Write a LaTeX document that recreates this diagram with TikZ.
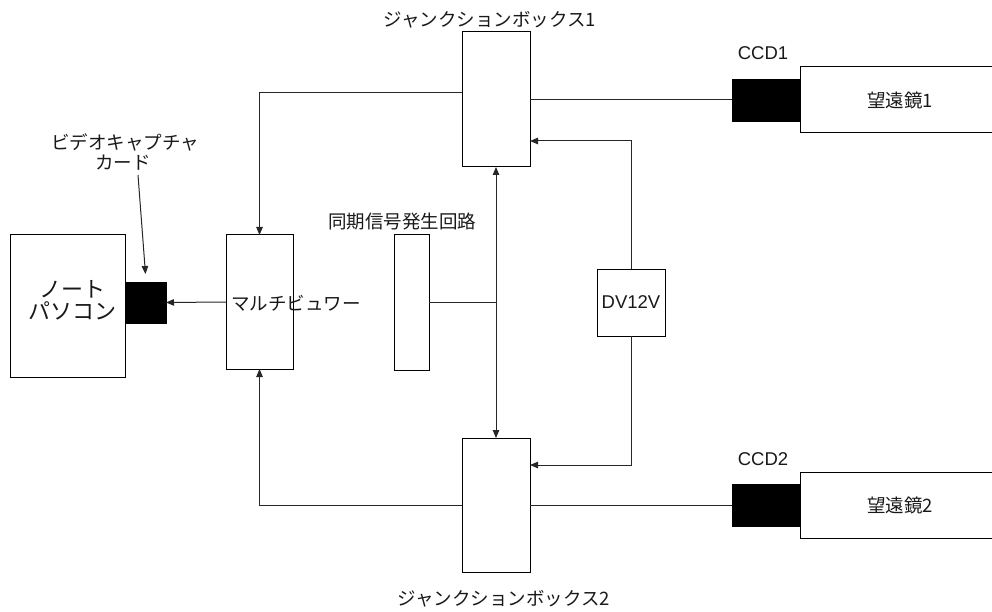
\documentclass[tikz,border=0pt]{standalone}
\usepackage{fontspec}
\setmainfont{Noto Sans CJK JP}
\newfontfamily\lat{Liberation Sans}
\usetikzlibrary{arrows.meta}
\begin{document}
\begin{tikzpicture}[x=1pt,y=-1pt,
  box/.style={draw=black,line width=1pt,fill=white,inner sep=0pt,outer sep=0pt},
  blk/.style={draw=black,fill=black,inner sep=0pt,outer sep=0pt},
  lbl/.style={inner sep=0pt,font=\fontsize{18.5}{21}\selectfont,text=black!90},
  big/.style={inner sep=0pt,font=\fontsize{22}{22}\selectfont,text=black!90},
  wire/.style={line width=1pt,draw=black!85},
  arr/.style={wire,-{Triangle[length=8pt,width=6.5pt]}},
  arrb/.style={wire,{Triangle[length=8pt,width=6.5pt]}-{Triangle[length=8pt,width=6.5pt]}}]
\useasboundingbox (0,0) rectangle (992,612);
\clip (0,0) rectangle (992,612);
% nodes
\node[box,minimum width=115pt,minimum height=142pt] (pc) at (67.5,306) {};
\node[big] (pcl1) at (72,289) {ノート};
\node[big] (pcl2) at (72,311) {パソコン};
\node[blk,minimum width=41pt,minimum height=41pt] (card) at (145.5,302.5) {};
\node[box,minimum width=67pt,minimum height=134pt] (mv) at (259.5,302) {};
\node[lbl] (mvl) at (296,303) {マルチビュワー};
\node[box,minimum width=68pt,minimum height=135pt] (jb1) at (496,99.5) {};
\node[box,minimum width=68pt,minimum height=134pt] (jb2) at (496,505) {};
\node[box,minimum width=35pt,minimum height=135pt] (sync) at (411.5,302.5) {};
\node[box,minimum width=68pt,minimum height=67pt,font=\lat\fontsize{18.5}{21}\selectfont,text=black!90] (dv) at (631,302.5) {DV12V};
\node[box,minimum width=200pt,minimum height=66pt,font=\fontsize{18.5}{21}\selectfont,text=black!90] (tel1) at (900,100) {望遠鏡1};
\node[box,minimum width=200pt,minimum height=66pt,font=\fontsize{18.5}{21}\selectfont,text=black!90] (tel2) at (900,505) {望遠鏡2};
\node[blk,minimum width=68pt,minimum height=42pt] (ccd1) at (766,100) {};
\node[blk,minimum width=68pt,minimum height=42pt] (ccd2) at (766,505) {};
% labels
\node[lbl] (jb1l) at (490,20) {ジャンクションボックス1};
\node[lbl] (jb2l) at (504,599) {ジャンクションボックス2};
\node[lbl] (syncl) at (402,222) {同期信号発生回路};
\node[lbl,font=\lat\fontsize{18.5}{21}\selectfont] (ccd1l) at (763,53) {CCD1};
\node[lbl,font=\lat\fontsize{18.5}{21}\selectfont] (ccd2l) at (763,459) {CCD2};
\node[lbl] (capl1) at (125,142) {ビデオキャプチャ};
\node[lbl] (capl2) at (123,163) {カード};
\coordinate (capt) at (138,175);
% connectors
\draw[arr] (jb1.west |- 0,93) -| (mv.north);
\draw[arr] (jb2.west |- 0,505) -| (mv.south);
\draw[arr] (mv.west) -- (card.east);
\draw[arr] (capt) -- ([yshift=8pt]card.north);
\draw[arrb] (jb1.south) -- (jb2.north);
\draw[wire] (sync.east) -- (sync.east -| jb1.south);
\draw[arr] (dv.north) |- (jb1.east |- 0,141);
\draw[arr] (dv.south) |- (jb2.east |- 0,465);
\draw[wire] (jb1.east |- ccd1.west) -- (ccd1.west);
\draw[wire] (jb2.east |- ccd2.west) -- (ccd2.west);
\end{tikzpicture}
\end{document}
